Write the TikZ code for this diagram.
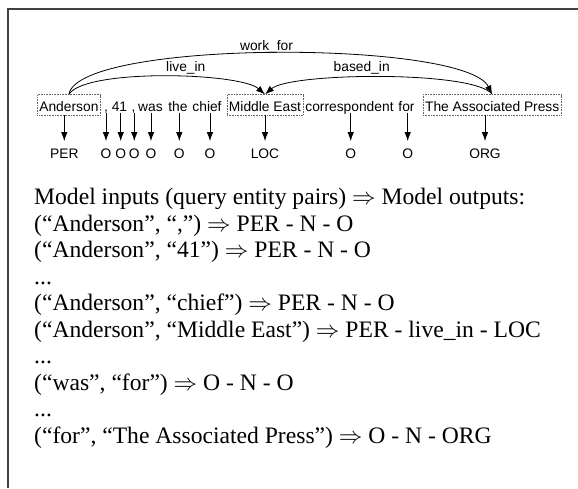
\RequirePackage{fix-cm}
\documentclass[tikz,border=0pt]{standalone}
\usepackage{fontspec}
\setmainfont{Liberation Serif}
\setsansfont{Liberation Sans}
\usepackage{tikz}
\usetikzlibrary{arrows.meta}

\newcommand\etcdots{...}

\tikzset{
  word/.style={font=\sffamily\fontsize{13.8}{16}\selectfont, anchor=base,
    inner xsep=0pt, inner ysep=1pt, text height=11pt, text depth=0pt},
  entity/.style={word, draw=black!60, densely dotted, line width=0.6pt,
    inner xsep=2pt, inner ysep=2pt, text height=15pt, text depth=1.3pt},
  tag/.style={font=\sffamily\fontsize{13.8}{16}\selectfont, anchor=base,
    inner xsep=0pt, inner ysep=7pt, text height=10.5pt, text depth=0pt},
  rel/.style={font=\sffamily\fontsize{13.8}{16}\selectfont, anchor=base, inner sep=0pt},
  link/.style={line width=0.8pt, -{Latex[length=9pt,width=6.5pt]}},
  model line/.style={font=\fontsize{23.6}{26.5}\selectfont, anchor=base west, inner sep=0pt},
}

\begin{document}
\begin{tikzpicture}[x=1pt, y=-1pt]
  \useasboundingbox (0,0) rectangle (578,488);
  \draw[black!75, line width=1.3pt] (8,488) -- (8,9) -- (578,9);

  % sentence
  \node[entity] (anderson) at (68.9,111.7) {Anderson};
  \node[word] (comma1) at (106,111.7) {,};
  \node[word] (num) at (119.5,111.7) {41};
  \node[word] (comma2) at (133.5,111.7) {,};
  \node[word] (was) at (150.5,111.7) {was};
  \node[word] (the) at (178,111.7) {the};
  \node[word] (chief) at (207,111.7) {chief};
  \node[entity] (mideast) at (265,111.7) {Middle East};
  \node[word] (corr) at (349.5,111.7) {correspondent};
  \node[word] (for) at (406.5,111.7) {for};
  \node[entity] (press) at (492.2,111.7) {The Associated Press};

  % tags
  \node[tag] (per) at (64.3,158.8) {PER};
  \draw[link] (per |- anderson.south) -- (per.north);
  \foreach \x/\w [count=\i] in {106/comma1, 120.7/num, 134.3/comma2, 151/was, 179.3/the, 210/chief}
  {
    \node[tag] (o\i) at (\x,158.8) {O};
    \draw[link] (o\i |- \w.south) -- (o\i.north);
  }
  \node[tag] (loc) at (265,158.8) {LOC};
  \draw[link] (loc |- mideast.south) -- (loc.north);
  \node[tag] (o7) at (350.7,158.8) {O};
  \draw[link] (o7 |- corr.south) -- (o7.north);
  \node[tag] (o8) at (407.7,158.8) {O};
  \draw[link] (o8 |- for.south) -- (o8.north);
  \node[tag] (org) at (485,158.8) {ORG};
  \draw[link] (org |- press.south) -- (org.north);

  % relations
  \draw[link] (anderson.north) .. controls +(16,-26) and +(-25,-22) .. (mideast.north);
  \draw[link] (press.north) .. controls +(-17,-24) and +(25,-22) .. (mideast.north);
  \draw[link] (anderson.north) .. controls +(9,-55) and +(-27,-54.7) .. (press.north);
  \node[rel] (workfor) at (266.5,50) {work\_for};
  \node[rel] (livein) at (185.8,71.7) {live\_in};
  \node[rel] (basedin) at (361.7,71.7) {based\_in};

  % query pairs
  \foreach \txt [count=\i] in {
    {Model inputs (query entity pairs) $\Rightarrow$ Model outputs:},
    {(“Anderson”, “,”) $\Rightarrow$ PER - N - O},
    {(“Anderson”, “41”) $\Rightarrow$ PER - N - O},
    {\etcdots},
    {(“Anderson”, “chief”) $\Rightarrow$ PER - N - O},
    {(“Anderson”, “Middle East”) $\Rightarrow$ PER - live\_in - LOC},
    {\etcdots},
    {(“was”, “for”) $\Rightarrow$ O - N - O},
    {\etcdots},
    {(“for”, “The Associated Press”) $\Rightarrow$ O - N - ORG}}
    \node[model line] (line\i) at (34,{204.5+26.5*(\i-1)}) {\txt};
\end{tikzpicture}
\end{document}
